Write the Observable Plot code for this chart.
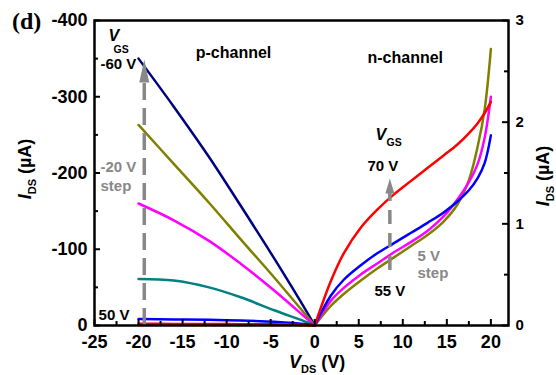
<!DOCTYPE html>
<html><head><meta charset="utf-8">
<script src="https://cdn.jsdelivr.net/npm/d3@7"></script>
<script src="https://cdn.jsdelivr.net/npm/@observablehq/plot@0.6"></script>
<style>body{margin:0;background:#fff}</style>
</head><body><div id="chart"></div>
<script>
// ---- data ----
const xP = [-20, -16, -12, -8.4, -4.6, -0.8, 0];            // p-channel V_DS (V)
const pNavy    = [-350, -287, -221, -157, -88, -16, 0];     // I_DS (µA), left axis
const pOlive   = [-263, -212, -161, -113, -63, -11, 0];
const pMagenta = [-160, -138, -111, -81, -46, -8, 0];
const pTeal    = [-61, -59, -50, -37, -20, -4, 0];
const pBlue    = [-8.5, -8, -7.5, -6.5, -5, -1.5, 0];
const pRed     = [-2.2, -2.1, -2, -1.8, -1.5, -0.4, 0];

const xN = [0, 1.8, 3.3, 5.2, 7.1, 9.0, 10.9, 12.8, 14.6, 16.2, 17.5, 18.5, 19.3, 20];  // n-channel V_DS (V)
const nRed     = [0, 0.43, 0.71, 0.96, 1.14, 1.29, 1.42, 1.55, 1.67, 1.78, 1.89, 1.99, 2.09, 2.20]; // I_DS (µA), right axis
const nBlue    = [0, 0.29, 0.45, 0.59, 0.71, 0.81, 0.91, 1.01, 1.11, 1.22, 1.33, 1.45, 1.60, 1.87];
const nMagenta = [0, 0.24, 0.37, 0.50, 0.61, 0.72, 0.82, 0.93, 1.07, 1.24, 1.41, 1.59, 1.85, 2.25];
const nOlive   = [0, 0.19, 0.31, 0.44, 0.56, 0.67, 0.78, 0.89, 1.02, 1.19, 1.43, 1.76, 2.13, 2.72];

const xTicks = [-25, -20, -15, -10, -5, 0, 5, 10, 15, 20];
const xMinor = [-22.5, -17.5, -12.5, -7.5, -2.5, 2.5, 7.5, 12.5, 17.5];
const yTicks = [0, -100, -200, -300, -400];
const yMinor = [-50, -150, -250, -350];
const rTicks = [0, 1, 2, 3];
const rMinor = [0.5, 1.5, 2.5];
const rScale = -400 / 3;   // right-axis µA -> left-axis units

const pSeries = [
  {c: "#000080", v: pNavy}, {c: "#808000", v: pOlive}, {c: "#FF00FF", v: pMagenta},
  {c: "#008080", v: pTeal}, {c: "#0000FF", v: pBlue}, {c: "#FF0000", v: pRed}
];
const nSeries = [
  {c: "#808000", v: nOlive}, {c: "#FF00FF", v: nMagenta},
  {c: "#0000FF", v: nBlue}, {c: "#FF0000", v: nRed}
];

// annotations (data coordinates: V, µA on left axis)
const notes = [
  {t: "-60 V", x: -24.32, y: -343.3, c: "#000", s: 15},
  {t: "V", x: -23.41, y: -379.2, c: "#000", s: 16, i: true},
  {t: "GS", x: -22.84, y: -361.2, c: "#000", s: 10.5},
  {t: "p-channel", x: -9.22, y: -356.9, c: "#000", s: 16, a: "middle"},
  {t: "-20 V", x: -24.32, y: -207, c: "#888", s: 15},
  {t: "step", x: -24.32, y: -183.3, c: "#888", s: 15},
  {t: "50 V", x: -24.54, y: -12.9, c: "#000", s: 15},
  {t: "V", x: 6.90, y: -250.6, c: "#000", s: 16, i: true},
  {t: "GS", x: 8.15, y: -239.2, c: "#000", s: 10.5},
  {t: "70 V", x: 5.99, y: -208.3, c: "#000", s: 15},
  {t: "5 V", x: 11.67, y: -91.5, c: "#888", s: 15},
  {t: "step", x: 11.67, y: -69.2, c: "#888", s: 15},
  {t: "55 V", x: 6.79, y: -45.6, c: "#000", s: 15},
  {t: "n-channel", x: 5.99, y: -351.6, c: "#000", s: 16}
];
const arrowL = [{x: -19.35, y1: 0, y2: -318.7}];
const arrowR = [{x: 8.53, y1: -72, y2: -173}];

// ---- chart ----
const W = 556, H = 375, mt = 20, mr = 48, mb = 50, ml = 94;
const innerW = W - ml - mr, innerH = H - mt - mb;

const toRows = (xs, vs) => xs.map((x, i) => ({x, y: vs[i]}));
const tri = {draw(ctx, l, r) { ctx.moveTo(-r, 0); ctx.lineTo(0, -l); ctx.lineTo(r, 0); ctx.closePath(); }};

const marks = [];
for (const s of pSeries) marks.push(Plot.line(toRows(xP, s.v), {x: "x", y: "y", stroke: s.c, strokeWidth: 2.5, curve: "catmull-rom"}));
for (const s of nSeries) marks.push(Plot.line(toRows(xN, s.v.map(v => v * rScale)), {x: "x", y: "y", stroke: s.c, strokeWidth: 2.5, curve: "catmull-rom"}));

// arrows
marks.push(Plot.ruleX(arrowL, {x: "x", y1: "y1", y2: "y2", stroke: "#888", strokeWidth: 3.5, strokeDasharray: "17,8"}));
marks.push(Plot.vector(arrowL, {x: "x", y: "y2", length: 23, r: 5, rotate: 0, anchor: "start", shape: tri, fill: "#888", stroke: "none"}));
marks.push(Plot.ruleX(arrowR, {x: "x", y1: "y1", y2: "y2", stroke: "#888", strokeWidth: 3.5, strokeDasharray: "14,9"}));
marks.push(Plot.vector(arrowR, {x: "x", y: "y2", length: 15, r: 4.5, rotate: 0, anchor: "start", shape: tri, fill: "#888", stroke: "none"}));

// notes
for (const n of notes) marks.push(Plot.text([n], {x: "x", y: "y", text: "t", fill: n.c, fontSize: n.s,
  fontStyle: n.i ? "italic" : "normal", textAnchor: n.a || "start", fontWeight: "bold"}));

// ticks (inward)
marks.push(Plot.tickX(xTicks, {x: d => d, insetTop: innerH - 6, strokeWidth: 2}));
marks.push(Plot.tickX(xMinor, {x: d => d, insetTop: innerH - 4, strokeWidth: 2}));
marks.push(Plot.tickY(yTicks, {y: d => d, insetRight: innerW - 6, strokeWidth: 2}));
marks.push(Plot.tickY(yMinor, {y: d => d, insetRight: innerW - 4, strokeWidth: 2}));
marks.push(Plot.tickY(rTicks.map(v => v * rScale), {y: d => d, insetLeft: innerW - 6, strokeWidth: 2}));
marks.push(Plot.tickY(rMinor.map(v => v * rScale), {y: d => d, insetLeft: innerW - 4, strokeWidth: 2}));

// tick labels
marks.push(Plot.axisX({ticks: xTicks, tickSize: 0, tickPadding: 10, tickFormat: d => String(d), label: null, fontSize: 18}));
marks.push(Plot.axisY({ticks: yTicks, tickSize: 0, tickPadding: 7, tickFormat: d => String(d), label: null, fontSize: 18}));
marks.push(Plot.axisY({anchor: "right", ticks: rTicks.map(v => v * rScale), tickSize: 0, tickPadding: 7,
  tickFormat: d => String(Math.round(d / rScale)), label: null, fontSize: 15}));

marks.push(Plot.frame({strokeWidth: 2.5}));

const plot = Plot.plot({
  width: W, height: H, marginTop: mt, marginRight: mr, marginBottom: mb, marginLeft: ml,
  x: {domain: [-25, 22], label: null},
  y: {domain: [0, -400], label: null},
  style: {fontFamily: "'Liberation Sans', Arial, sans-serif", fontSize: "18px", fontWeight: "bold", color: "#000", background: "#fff", overflow: "visible"},
  marks
});

// axis titles & panel label
const svg = d3.select(plot);
function title(x, y, rot, parts) {
  const t = svg.append("text").attr("transform", `translate(${x},${y}) rotate(${rot})`)
    .attr("text-anchor", rot ? "middle" : "start")
    .attr("font-family", "'Liberation Sans', Arial, sans-serif").attr("font-weight", "bold").attr("font-size", 18).attr("fill", "#000");
  t.append("tspan").attr("font-style", "italic").text(parts[0]);
  t.append("tspan").attr("font-size", 11).attr("dy", 5).text(parts[1]);
  t.append("tspan").attr("dy", -5).text(parts[2]);
}
title(31, 169, -90, ["I", "DS", " (µA)"]);
title(549, 176, -90, ["I", "DS", " (µA)"]);
title(289, 368, 0, ["V", "DS", " (V)"]);
svg.append("text").attr("x", 12).attr("y", 29).attr("text-anchor", "start")
  .attr("font-family", "'Liberation Serif', 'Times New Roman', serif")
  .attr("font-weight", "bold").attr("font-size", 24).attr("fill", "#000").text("(d)");

document.getElementById("chart").append(plot);
</script>
</body></html>
